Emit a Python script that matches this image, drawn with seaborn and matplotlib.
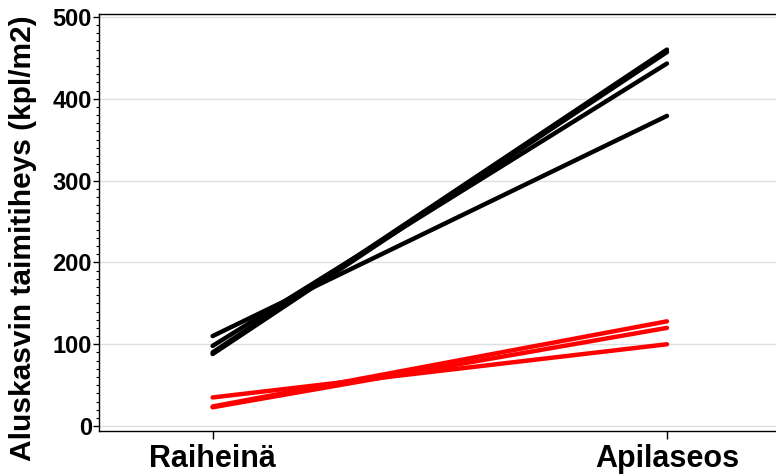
import matplotlib
matplotlib.use("Agg")
import matplotlib.pyplot as plt
import seaborn as sns
import pandas as pd
from matplotlib.ticker import MultipleLocator

categories = ["Raiheinä", "Apilaseos"]
black_start = [110, 98, 90, 88]
black_end = [379, 443, 460, 457]
red_start = [35, 24, 23]
red_end = [100, 128, 120]
yticks = [0, 100, 200, 300, 400, 500]

rows = []
for i, (s, e) in enumerate(zip(black_start, black_end)):
    rows.append(dict(id=f"b{i}", group="black", cat=categories[0], val=s))
    rows.append(dict(id=f"b{i}", group="black", cat=categories[1], val=e))
for i, (s, e) in enumerate(zip(red_start, red_end)):
    rows.append(dict(id=f"r{i}", group="red", cat=categories[0], val=s))
    rows.append(dict(id=f"r{i}", group="red", cat=categories[1], val=e))
df = pd.DataFrame(rows)

sns.set_style("white")
plt.rcParams["font.family"] = ["Liberation Sans", "DejaVu Sans"]
plt.rcParams["text.color"] = "black"
plt.rcParams["axes.labelcolor"] = "black"
plt.rcParams["xtick.color"] = "black"
plt.rcParams["ytick.color"] = "black"

fig = plt.figure(figsize=(7.76, 4.76), dpi=100)
ax = fig.add_axes([0.1276, 0.0945, 0.8724, 0.8761])

sns.lineplot(data=df, x="cat", y="val", units="id", hue="group", estimator=None,
             palette={"black": "#000000", "red": "#ff0000"}, linewidth=3.2,
             legend=False, ax=ax, solid_capstyle="round")

ax.set_xlim(-0.25, 1.24)
ax.set_ylim(-6, 503.5)
ax.set_yticks(yticks)
ax.yaxis.set_minor_locator(MultipleLocator(10))
ax.grid(axis="y", which="major", color="#dedede", linewidth=1)
ax.set_axisbelow(True)

for side in ["left", "top", "bottom"]:
    ax.spines[side].set_visible(True)
    ax.spines[side].set_color("black")
    ax.spines[side].set_linewidth(1.0)
ax.spines["right"].set_visible(False)

ax.tick_params(axis="y", which="major", direction="out", length=4, width=1,
               left=True, labelsize=17, pad=1, colors="black")
ax.tick_params(axis="y", which="minor", direction="out", length=2, width=0.8,
               left=True, colors="black")
ax.tick_params(axis="x", which="major", direction="out", length=6, width=1,
               bottom=True, labelsize=22, pad=3, colors="black")
for lab in ax.get_yticklabels() + ax.get_xticklabels():
    lab.set_fontweight("bold")

ax.set_xlabel("")
ax.set_ylabel("Aluskasvin taimitiheys (kpl/m2)", fontsize=21.5, fontweight="bold",
              color="black")
ax.yaxis.set_label_coords(-0.092, 0.463)

fig.savefig("out.png", dpi=100)
